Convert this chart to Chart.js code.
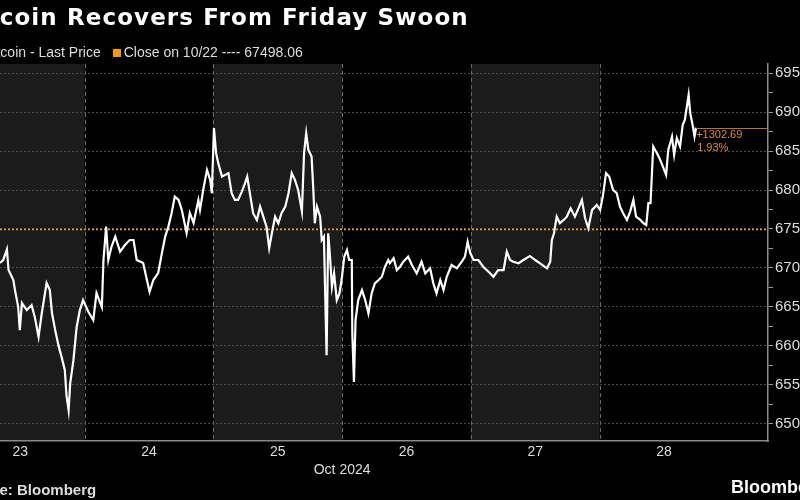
<!DOCTYPE html>
<html>
<head>
<meta charset="utf-8">
<script src="https://cdn.jsdelivr.net/npm/chart.js@4.4.1/dist/chart.umd.min.js"></script>
<style>
  html, body { margin: 0; padding: 0; background: #000; }
  #wrap { position: relative; width: 800px; height: 500px; overflow: hidden; background: #000;
          font-family: "Liberation Sans", Arial, sans-serif; }
  canvas { position: absolute; left: 0; top: 0; }
  .txt { position: absolute; white-space: nowrap; }
  #title { top: 4px; font-family: "DejaVu Sans", sans-serif; font-size: 23px; letter-spacing: 1.1px;
           font-weight: bold; color: #fff; }
  #sub { top: 44px; font-size: 14px; color: #ddd; }
  #src { top: 481px; font-size: 15px; font-weight: bold; color: #ddd; }
  #logo { top: 477px; left: 731px; font-size: 18px; font-weight: bold; color: #fff; }
  .sq { display: inline-block; width: 8px; height: 8px; background: #f39c12; margin: 0 3px 0 12px; }
</style>
</head>
<body>
<div id="wrap">
  <canvas id="chart" width="800" height="500"></canvas>
  <div class="txt" id="title"><span class="cut">Bit</span>coin Recovers From Friday Swoon</div>
  <div class="txt" id="sub"><span class="cut">Bit</span>coin - Last Price<span class="sq"></span>Close on 10/22 ---- 67498.06</div>
  <div class="txt" id="src"><span class="cut">Sourc</span>e: Bloomberg</div>
  <div class="txt" id="logo">Bloomberg</div>
</div>
<script>
// hours since 23 Oct 2024 00:00
var times = [
  8.2, 8.8, 9.5, 9.8, 10.7, 11.0, 11.6, 11.9, 12.3, 13.2, 14.1, 14.7, 15.4, 16.0, 16.9, 17.5, 17.9, 18.5, 19.1, 19.7,
  20.3, 20.6, 21.0, 21.3, 21.9, 22.5, 23.1, 23.7, 24.7, 25.6, 26.2, 27.2, 27.5, 28.0, 28.4, 29.0, 29.7, 30.6, 31.5, 32.4,
  33.1, 33.7, 34.9, 35.6, 36.1, 36.8, 37.7, 38.4, 39.0, 39.6, 40.2, 40.8, 41.5, 42.1, 43.0, 43.6, 44.3, 45.2,
  45.5, 46.1, 46.8, 47.4, 47.7, 48.1, 48.5, 48.9, 49.6, 50.2, 50.8, 51.4, 52.0, 52.6, 53.3, 53.9, 54.3, 54.8, 55.4, 56.1,
  56.7, 57.3, 57.9, 58.4, 58.9, 59.5, 60.1, 60.7, 61.4, 62.0, 62.6, 63.2, 63.8, 64.5, 64.9, 65.3, 65.7, 66.3, 66.6, 66.9,
  67.3, 67.9, 68.2, 68.6, 69.1, 69.4, 69.7, 70.1, 70.5, 71.0, 71.5, 71.9, 72.4, 72.9, 73.3, 73.8, 73.9, 74.2, 74.5, 75.0,
  75.7, 76.3, 76.9, 77.5, 78.1, 78.8, 79.4, 80.0, 80.6,
  80.9, 81.6, 82.2, 82.8, 83.4, 84.3, 85.0, 85.9, 86.8, 87.5, 88.4, 89.0, 89.6, 90.3, 90.9, 91.5, 92.4, 93.4, 94.3, 94.9,
  95.4, 95.9, 96.5, 97.4, 98.3, 99.3, 100.2, 101.1, 102.1, 102.7, 103.3, 103.9, 104.9, 105.8, 107.0, 108.0, 108.9, 110.2,
  110.8, 111.1, 111.5, 112.0, 112.6, 113.3, 113.9, 114.6, 115.4, 116.2,
  116.7, 117.3, 117.9, 118.6, 119.5, 120.1, 120.6, 121.2, 121.8, 122.5, 123.2, 123.8, 124.4, 125.1, 125.7, 126.3, 126.8,
  127.6, 128.2, 128.7, 129.1, 129.5, 130.0, 130.7, 131.3, 131.8, 132.4, 132.8, 133.5, 133.9, 134.4, 135.0, 135.5, 135.9,
  136.6, 136.9, 137.4, 137.7, 138.0
];
var prices = [
  67062, 67101, 67239, 66972, 66844, 66715, 66500, 66200, 66548, 66458, 66522, 66367, 66114, 66419, 66805, 66715, 66419, 66200, 66007, 65853,
  65685, 65364, 65170, 65518, 65814, 66239, 66458, 66586, 66432, 66329, 66676, 66496, 67101, 67530, 67101, 67272, 67401, 67208, 67294, 67358,
  67358, 67101, 67062, 66844, 66693, 66844, 66934, 67191, 67401, 67530, 67702, 67916, 67873, 67745, 67449, 67706, 67577, 67873,
  67745, 68002, 68259, 68131, 67959, 68796, 68474, 68346, 68173, 68195, 68217, 67959, 67873, 67873, 67980, 68088, 68173, 67959, 67702, 67616,
  67787, 67658, 67530, 67252, 67445, 67658, 67573, 67702, 67787, 67959, 68217, 68131, 68002, 67723, 68474, 68732, 68517, 68431, 68044, 67573,
  67787, 67658, 67358, 67401, 65878, 67445, 67187, 66757, 66930, 66586, 66672, 66844, 67143, 67230, 67101, 67101, 66158, 65535, 66329, 66586,
  66715, 66586, 66415, 66672, 66801, 66844, 66886, 67015, 67101,
  67059, 67123, 66972, 67015, 67079, 67144, 67037, 66930, 67079, 66930, 66994, 66801, 66672, 66844, 66715, 66886, 67037, 66994, 67079, 67144,
  67337, 67187, 67101, 67101, 67015, 66950, 66886, 66972, 66972, 67208, 67101, 67079, 67059, 67101, 67153, 67101, 67059, 66994,
  67079, 67358, 67445, 67658, 67573, 67616, 67658, 67766, 67658, 67787,
  67873, 67638, 67509, 67745, 67809, 67745, 67916, 68217, 68173, 68002, 67959, 67787, 67702, 67616, 67723, 67873, 67658,
  67616, 67573, 67551, 67831, 67831, 68559, 68474, 68388, 68302, 68195, 68517, 68688, 68452, 68667, 68559, 68838, 68903,
  69225, 68989, 68817, 68688, 68800.75
];

var dayTicks = [12, 36, 60, 84, 108, 132];
var dayLabels = ['23', '24', '25', '26', '27', '28'];
var dayBreaks = [24, 48, 72, 96, 120];
var shadedDays = [[0, 24], [48, 72], [96, 120]];
var monthLabel = 'Oct 2024';
var monthCenter = 72;
var yTicks = [65000, 65250, 65500, 65750, 66000, 66250, 66500, 66750, 67000, 67250, 67500, 67750,
              68000, 68250, 68500, 68750, 69000, 69250, 69500];
var priorClose = 67498.06;

// shift the cropped-off prefixes out to the left
document.querySelectorAll('.txt').forEach(function (el) {
  var cut = el.querySelector('.cut');
  if (cut) el.style.left = (-cut.offsetWidth) + 'px';
});

var FONT = '"Liberation Sans", Arial, sans-serif';

var bloombergBits = {
  id: 'bloombergBits',
  beforeDraw: function (chart) {
    var ctx = chart.ctx, a = chart.chartArea, x = chart.scales.x;
    ctx.save();
    ctx.fillStyle = '#1b1b1b';
    shadedDays.forEach(function (d) {
      var x0 = Math.max(a.left, x.getPixelForValue(d[0]));
      var x1 = Math.min(a.right, x.getPixelForValue(d[1]));
      if (x1 > x0) ctx.fillRect(x0, a.top, x1 - x0, a.bottom - a.top);
    });
    ctx.strokeStyle = '#6a6a6a';
    ctx.lineWidth = 1;
    ctx.setLineDash([4, 3]);
    dayBreaks.forEach(function (h) {
      var px = Math.round(x.getPixelForValue(h)) + 0.5;
      ctx.beginPath();
      ctx.moveTo(px, a.top);
      ctx.lineTo(px, a.bottom);
      ctx.stroke();
    });
    ctx.restore();
  },
  beforeDatasetsDraw: function (chart) {
    var ctx = chart.ctx, a = chart.chartArea, y = chart.scales.y;
    var py = Math.round(y.getPixelForValue(priorClose)) + 0.5;
    ctx.save();
    ctx.strokeStyle = '#f0a030';
    ctx.lineWidth = 1.5;
    ctx.setLineDash([2, 2]);
    ctx.beginPath();
    ctx.moveTo(a.left, py);
    ctx.lineTo(a.right, py);
    ctx.stroke();
    ctx.restore();
  },
  afterDatasetsDraw: function (chart) {
    var ctx = chart.ctx, a = chart.chartArea, x = chart.scales.x, y = chart.scales.y;
    var last = prices[prices.length - 1];
    var px = x.getPixelForValue(times[times.length - 1]);
    var py = Math.round(y.getPixelForValue(last)) + 0.5;
    ctx.save();
    ctx.strokeStyle = '#b8732e';
    ctx.lineWidth = 1;
    ctx.beginPath();
    ctx.moveTo(px, py);
    ctx.lineTo(a.right, py);
    ctx.stroke();
    var diff = last - priorClose;
    ctx.fillStyle = '#d98b3a';
    ctx.font = '11px ' + FONT;
    ctx.textBaseline = 'middle';
    ctx.textAlign = 'left';
    ctx.fillText((diff >= 0 ? '+' : '') + diff.toFixed(2), px, py + 6);
    ctx.fillText((diff / priorClose * 100).toFixed(2) + '%', px + 1, py + 19);
    ctx.restore();
  },
  afterDraw: function (chart) {
    var ctx = chart.ctx, x = chart.scales.x;
    ctx.save();
    ctx.fillStyle = '#ddd';
    ctx.font = '14px ' + FONT;
    ctx.textAlign = 'center';
    ctx.textBaseline = 'middle';
    ctx.fillText(monthLabel, x.getPixelForValue(monthCenter), 470);
    ctx.restore();
  }
};

var ctx = document.getElementById('chart').getContext('2d');
var chart = new Chart(ctx, {
  type: 'line',
  data: {
    datasets: [{
      label: 'Bitcoin - Last Price',
      data: times.map(function (t, i) { return { x: t, y: prices[i] }; }),
      borderColor: '#ffffff',
      borderWidth: 2.2,
      pointRadius: 0,
      tension: 0
    }]
  },
  options: {
    responsive: false,
    animation: false,
    layout: { padding: { top: 64, left: 0, right: 0, bottom: 0 }, autoPadding: false },
    plugins: { legend: { display: false }, tooltip: { enabled: false } },
    scales: {
      x: {
        type: 'linear',
        min: 8.21,
        max: 151.4,
        afterBuildTicks: function (s) { s.ticks = dayTicks.map(function (v) { return { value: v }; }); },
        afterFit: function (s) { s.height = 59; },
        grid: { display: false, drawTicks: false },
        border: { display: true, color: '#8a8a8a', width: 1.5 },
        ticks: {
          color: '#ddd', font: { size: 14, family: FONT }, padding: 3,
          maxRotation: 0, autoSkip: false,
          callback: function (v, i) { return dayLabels[i]; }
        }
      },
      y: {
        position: 'right',
        min: 64775,
        max: 69620,
        afterBuildTicks: function (s) { s.ticks = yTicks.map(function (v) { return { value: v }; }); },
        afterFit: function (s) { s.width = 32; },
        grid: {
          color: function (c) { return c.tick && c.tick.value % 500 === 0 ? '#4a4a4a' : 'rgba(0,0,0,0)'; },
          tickColor: '#9a9a9a',
          tickLength: 5,
          lineWidth: 1
        },
        border: { color: '#8a8a8a', width: 1.5, dash: [2, 2] },
        ticks: {
          color: '#ddd', font: { size: 15, family: FONT }, padding: 2, autoSkip: false,
          callback: function (v) { return v % 500 === 0 ? String(v) : ''; }
        }
      }
    }
  },
  plugins: [bloombergBits]
});
</script>
</body>
</html>
